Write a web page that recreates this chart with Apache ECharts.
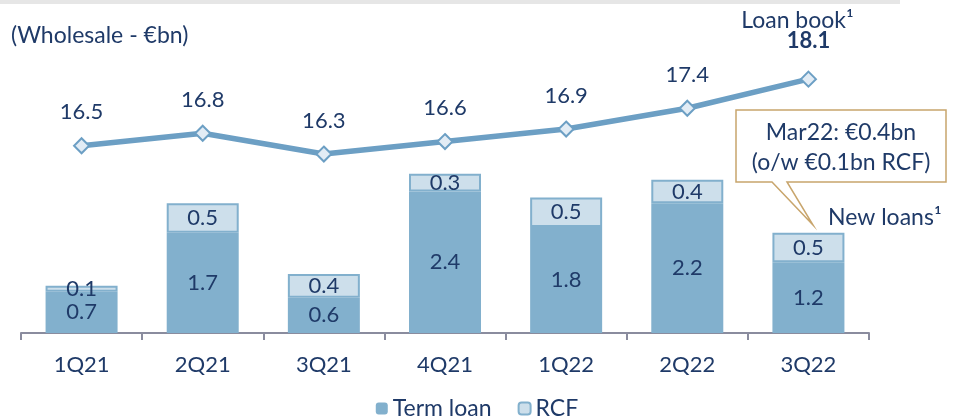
<!DOCTYPE html>
<html>
<head>
<meta charset="utf-8">
<script src="https://cdn.jsdelivr.net/npm/echarts@6/dist/echarts.min.js"></script>
<style>
  html, body { margin: 0; padding: 0; background: #fff; }
  #chart { width: 954px; height: 418px; }
</style>
</head>
<body>
<div id="chart"></div>
<script>
// quarters
const quarters = ['1Q21', '2Q21', '3Q21', '4Q21', '1Q22', '2Q22', '3Q22'];
// new loans, €bn
const termLoan = [0.7, 1.7, 0.6, 2.4, 1.8, 2.2, 1.2];
const rcf = [0.1, 0.5, 0.4, 0.3, 0.5, 0.4, 0.5];
// loan book, €bn
const loanBook = [16.5, 16.8, 16.3, 16.6, 16.9, 17.4, 18.1];

const FONT = 'Lato';
const TXT = '#1F3A68';
const BLUE = '#82B0CD';
const LIGHT = '#CDDFEB';
const LINE = '#6C9FC4';
const NUM = 22;   // number labels
const WORD = 23;  // word labels

const chart = echarts.init(document.getElementById('chart'), null, { renderer: 'canvas' });

// last point gets the "Loan book" caption
const lineData = loanBook.map((v, i) => {
  if (i < loanBook.length - 1) return v;
  return {
    value: v,
    label: {
      formatter: '{a|Loan book¹}\n{b|' + v.toFixed(1) + '}',
      distance: 19,
      rich: {
        a: { fontFamily: FONT, fontSize: WORD, color: TXT, lineHeight: 21, padding: [0, 22, 0, 0] },
        b: { fontFamily: FONT, fontSize: NUM, fontWeight: 'bold', color: TXT, lineHeight: 21 }
      }
    }
  };
});

chart.setOption({
  animation: false,
  textStyle: { fontFamily: FONT },
  title: {
    text: '(Wholesale - €bn)',
    left: 6, top: 19,
    textStyle: { fontFamily: FONT, fontSize: 23, fontWeight: 'normal', color: TXT }
  },
  legend: {
    bottom: -7,
    left: 'center',
    itemWidth: 12, itemHeight: 12,
    itemGap: 26,
    textStyle: { fontFamily: FONT, fontSize: WORD, color: TXT },
    data: ['Term loan', 'RCF']
  },
  grid: { left: 21, right: 85, top: 50, bottom: 85 },
  xAxis: {
    type: 'category',
    data: quarters,
    axisLine: { lineStyle: { color: '#8A8C9E', width: 2 } },
    axisTick: { show: true, length: 7, lineStyle: { color: '#8A8C9E', width: 2 } },
    axisLabel: { fontFamily: FONT, fontSize: NUM, color: TXT, margin: 21 }
  },
  yAxis: [
    { type: 'value', min: 0, max: 4.8, show: false, splitLine: { show: false } },
    { type: 'value', min: 12, max: 18.8, show: false, splitLine: { show: false } }
  ],
  series: [
    {
      name: 'Term loan',
      type: 'bar',
      stack: 'loans',
      barWidth: 72,
      data: termLoan,
      itemStyle: { color: BLUE },
      label: {
        show: true, position: 'inside',
        fontFamily: FONT, fontSize: NUM, color: TXT,
        formatter: p => p.value.toFixed(1)
      }
    },
    {
      name: 'RCF',
      type: 'bar',
      stack: 'loans',
      barWidth: 72,
      data: rcf,
      itemStyle: { color: LIGHT, borderColor: BLUE, borderWidth: 2 },
      label: {
        show: true, position: 'inside',
        fontFamily: FONT, fontSize: NUM, color: TXT,
        formatter: p => p.value.toFixed(1)
      }
    },
    {
      name: 'Loan book',
      type: 'line',
      yAxisIndex: 1,
      data: lineData,
      symbol: 'diamond',
      symbolSize: 15,
      lineStyle: { color: LINE, width: 5.5 },
      itemStyle: { color: '#E2ECF5', borderColor: LINE, borderWidth: 2 },
      label: {
        show: true, position: 'top', distance: 14,
        fontFamily: FONT, fontSize: NUM, color: TXT,
        formatter: p => p.value.toFixed(1)
      },
      z: 5
    }
  ],
  graphic: [
    // grey rule at the top
    { type: 'rect', left: 0, top: 0, shape: { width: 900, height: 4 }, style: { fill: '#E6E6E6' } },
    // callout box with pointer
    {
      type: 'polygon',
      shape: { points: [[736, 110], [946, 110], [946, 182], [787, 182], [813, 225], [772, 182], [736, 182]] },
      style: { fill: '#fff', stroke: '#C8A56C', lineWidth: 1.5 },
      z: 10
    },
    {
      type: 'text', z: 11,
      style: { x: 841, y: 133, text: 'Mar22: €0.4bn', fontFamily: FONT, fontSize: WORD, fill: TXT, textAlign: 'center', textVerticalAlign: 'middle' }
    },
    {
      type: 'text', z: 11,
      style: { x: 841, y: 163, text: '(o/w €0.1bn RCF)', fontFamily: FONT, fontSize: WORD, fill: TXT, textAlign: 'center', textVerticalAlign: 'middle' }
    },
    {
      type: 'text', z: 11,
      style: { x: 828, y: 218, text: 'New loans¹', fontFamily: FONT, fontSize: WORD, fill: TXT, textAlign: 'left', textVerticalAlign: 'middle' }
    }
  ]
});
</script>
</body>
</html>
